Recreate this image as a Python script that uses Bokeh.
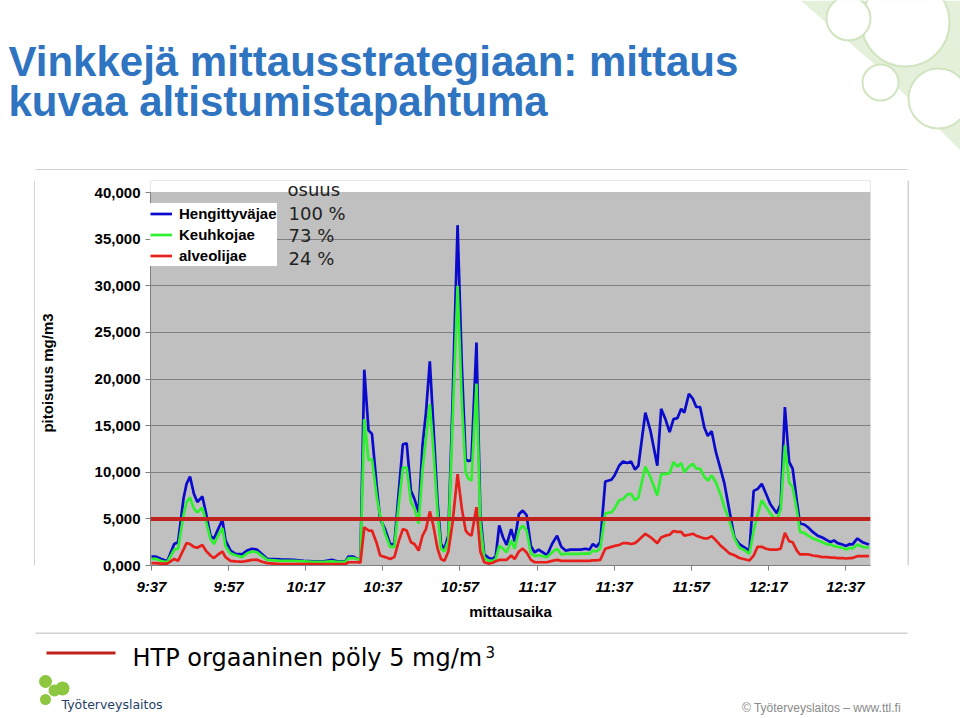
from bokeh.plotting import figure
from bokeh.layouts import column, row
from bokeh.models import (Range1d, FixedTicker, Span, Label, Legend, LegendItem,
                          BoxAnnotation)
from bokeh.core.properties import value
from bokeh.embed import file_html
from bokeh.resources import INLINE

# ---------------- data ----------------
# sample times as minutes after 9:37
minutes = [
    0.0, 1.1, 2.4, 4.1, 5.9, 6.9, 8.3, 9.1, 10.0, 11.0,
    11.9, 13.2, 14.1, 15.3, 16.2, 17.5, 18.4, 19.2, 20.5, 21.8,
    23.5, 24.8, 26.1, 27.4, 28.7, 30.0, 33.5, 36.9, 39.5, 42.1,
    44.7, 46.8, 48.1, 50.3, 51.1, 52.4, 53.3, 54.2,
    55.2, 56.3, 57.2, 58.5, 59.3, 60.6, 61.9, 63.0, 64.2, 65.2,
    66.2, 67.3, 68.2, 69.3, 70.3, 71.2, 72.2, 73.1, 74.2, 75.1,
    76.0, 77.0, 78.1, 79.4, 80.5, 81.5, 82.2, 83.0, 84.3,
    85.3, 86.3, 87.5, 88.5, 89.3, 90.2, 91.2, 92.1, 93.3, 94.2,
    95.3, 96.3, 97.3, 98.4, 99.4, 100.4, 101.5, 102.6, 103.9, 105.2,
    106.3, 107.4, 108.7, 110.0, 111.3, 112.6, 113.6, 114.5, 115.4, 116.4, 117.7,
    119.3, 120.1, 121.3, 122.3, 123.4, 124.4, 125.4, 126.3, 128.1, 129.4,
    131.2, 132.2, 133.3, 134.4, 135.4, 136.4, 137.4, 138.2, 139.4, 140.4,
    141.3, 142.3, 143.4, 144.3, 145.3, 146.4, 147.7, 148.6, 149.9, 151.2,
    152.5, 153.6, 155.1,
    156.2, 157.2, 158.3, 159.4, 160.5, 161.5, 162.2, 163.2, 164.3, 165.4,
    166.3, 167.4, 168.2, 169.3, 170.3, 171.5, 172.8, 174.0, 175.3, 176.2,
    177.0, 178.0, 179.2, 180.2, 181.1, 181.8, 183.1, 184.4, 186.1,
]

hengittyvajae = [
    0.96, 0.96, 0.72, 0.46, 2.3, 2.5, 7.15, 8.76, 9.54, 7.7,
    6.8, 7.4, 5.7, 3.2, 2.86, 4.1, 4.9, 2.7, 1.6, 1.25,
    1.2, 1.6, 1.8, 1.7, 1.2, 0.72, 0.65, 0.6, 0.5, 0.45,
    0.45, 0.6, 0.45, 0.45, 0.96, 0.96, 0.72, 0.7,
    21.0, 14.5, 14.1, 8.2, 5.0, 3.9, 2.3, 2.3, 8.2, 13.0,
    13.1, 8.0, 7.15, 5.7, 12.9, 16.4, 21.9, 15.2, 6.8, 2.3,
    1.8, 3.2, 17.5, 36.5, 21.4, 11.4, 11.2, 11.3, 23.9,
    5.5, 1.2, 0.8, 0.7, 1.0, 4.3, 3.0, 2.2, 3.9, 2.6,
    5.5, 5.9, 5.4, 2.1, 1.4, 1.7, 1.4, 1.1, 2.3, 3.2,
    2.0, 1.6, 1.7, 1.7, 1.7, 1.8, 1.7, 2.3, 2.0, 2.5, 9.0,
    9.2, 9.65, 10.7, 11.15, 11.0, 11.15, 10.3, 10.7, 16.4, 14.5,
    10.7, 16.8, 15.7, 14.3, 15.7, 15.8, 16.8, 16.4, 18.4, 17.9,
    17.0, 17.0, 14.8, 13.9, 14.4, 12.15, 10.2, 8.8, 5.9, 3.0,
    2.3, 2.0, 1.6,
    8.0, 8.2, 8.76, 7.7, 6.6, 6.0, 5.6, 6.6, 17.0, 11.1,
    10.4, 6.9, 4.5, 4.4, 4.1, 3.6, 3.2, 3.0, 2.7, 2.5,
    2.7, 2.4, 2.25, 2.1, 2.3, 2.25, 2.9, 2.5, 2.25,
]

keuhkojae = [
    0.72, 0.72, 0.5, 0.35, 1.7, 1.8, 5.4, 6.8, 7.3, 6.1,
    5.7, 6.2, 4.8, 2.86, 2.3, 3.4, 4.0, 2.1, 1.3, 1.1,
    0.9, 1.3, 1.5, 1.4, 1.0, 0.6, 0.5, 0.5, 0.45, 0.4,
    0.4, 0.45, 0.4, 0.4, 0.8, 0.8, 0.7, 0.6,
    15.7, 11.3, 11.4, 7.15, 5.4, 3.4, 2.0, 2.0, 6.8, 10.5,
    10.5, 6.8, 6.1, 4.5, 10.3, 13.6, 17.3, 12.5, 5.7, 1.8,
    1.5, 2.7, 15.4, 30.0, 17.5, 10.0, 9.3, 9.1, 19.5,
    4.5, 0.8, 0.5, 0.5, 0.7, 2.1, 1.8, 1.4, 2.7, 1.8,
    3.75, 4.3, 3.75, 1.3, 1.0, 1.1, 1.0, 0.9, 1.4, 1.8,
    1.2, 1.25, 1.25, 1.25, 1.25, 1.3, 1.25, 1.6, 1.5, 1.8, 5.6,
    5.7, 6.1, 7.0, 7.1, 7.6, 7.7, 7.0, 7.3, 10.6, 9.5,
    7.5, 9.8, 9.8, 9.9, 11.1, 10.6, 11.0, 10.0, 10.6, 10.9,
    10.4, 10.4, 9.5, 9.1, 9.65, 8.9, 7.5, 6.25, 4.8, 2.9,
    1.9, 1.7, 1.25,
    3.75, 5.4, 7.0, 6.3, 5.6, 5.1, 4.9, 6.0, 12.9, 8.9,
    8.4, 5.9, 3.6, 3.5, 3.2, 2.9, 2.7, 2.5, 2.25, 2.25,
    2.1, 2.0, 1.9, 1.7, 1.9, 1.8, 2.25, 2.0, 1.9,
]

alveolijae = [
    0.25, 0.25, 0.2, 0.2, 0.7, 0.5, 1.7, 2.4, 2.3, 2.0,
    1.9, 2.2, 1.6, 1.07, 0.8, 1.25, 1.5, 0.9, 0.5, 0.45,
    0.4, 0.5, 0.6, 0.62, 0.4, 0.25, 0.15, 0.15, 0.15, 0.15,
    0.15, 0.15, 0.15, 0.15, 0.35, 0.35, 0.35, 0.3,
    4.1, 3.75, 3.75, 2.3, 1.07, 0.9, 0.7, 0.9, 2.7, 3.9,
    3.75, 2.5, 2.3, 1.6, 3.2, 3.9, 5.8, 4.3, 1.8, 0.7,
    0.5, 1.5, 4.6, 9.8, 6.1, 3.75, 3.4, 3.2, 6.25,
    1.5, 0.35, 0.2, 0.3, 0.45, 0.6, 0.6, 0.6, 1.07, 0.7,
    1.5, 1.8, 1.4, 0.6, 0.35, 0.35, 0.35, 0.35, 0.5, 0.6,
    0.5, 0.5, 0.5, 0.5, 0.5, 0.5, 0.5, 0.55, 0.55, 0.6, 1.8,
    2.0, 2.1, 2.2, 2.4, 2.4, 2.3, 2.4, 2.7, 3.4, 3.05,
    2.4, 3.0, 3.2, 3.3, 3.7, 3.6, 3.6, 3.2, 3.3, 3.4,
    3.2, 3.05, 2.9, 2.9, 3.15, 2.7, 2.1, 1.8, 1.3, 1.1,
    0.8, 0.7, 0.54,
    1.07, 2.0, 2.0, 1.8, 1.7, 1.7, 1.7, 1.8, 3.5, 2.6,
    2.5, 1.6, 1.2, 1.2, 1.2, 1.07, 1.0, 0.9, 0.9, 0.85,
    0.85, 0.8, 0.8, 0.75, 0.8, 0.8, 1.0, 1.0, 1.0,
]

htp_limit = 5.0  # mg/m3

series_names = ["Hengittyväjae", "Keuhkojae", "alveolijae"]
series_colors = ["#0a0acd", "#2ef02e", "#e8201c"]
osuus = ["100 %", "73 %", "24 %"]

x_tick_minutes = [0, 20, 40, 60, 80, 100, 120, 140, 160, 180]
x_tick_labels = ["9:37", "9:57", "10:17", "10:37", "10:57",
                 "11:17", "11:37", "11:57", "12:17", "12:37"]
y_ticks = [0, 5, 10, 15, 20, 25, 30, 35, 40]
y_tick_labels = ["0,000", "5,000", "10,000", "15,000", "20,000",
                 "25,000", "30,000", "35,000", "40,000"]

title_lines = ["Vinkkejä mittausstrategiaan: mittaus", "kuvaa altistumistapahtuma"]
htp_text = "HTP orgaaninen pöly 5 mg/m"
footer_text = "© Työterveyslaitos  –  www.ttl.fi"
logo_text = "Työterveyslaitos"

assert len(minutes) == len(hengittyvajae) == len(keuhkojae) == len(alveolijae)

AX = "Liberation Sans"
OS = "DejaVu Sans"
TITLE_COL = "#2f74c0"
LIMIT_COL = "#c0211d"
BOX_COL = "#a6a6a6"

PAGE_W, PAGE_H = 960, 718
TOP_H = 170          # title band
BOX_X0, BOX_X1 = 35, 907
BOX_H = 462          # chart box 170..632
BOT_H = PAGE_H - TOP_H - BOX_H


def base(y, size):
    """text y that puts the alphabetic baseline at page row y"""
    return y - 0.38 * size


def blank(w, h, xr, yr):
    f = figure(width=w, height=h, output_backend="svg", toolbar_location=None,
               x_range=Range1d(*xr), y_range=Range1d(*yr),
               x_axis_type=None, y_axis_type=None, min_border=0,
               outline_line_color=None, background_fill_color="white",
               border_fill_color="white")
    return f


# ---------------- top band: title + decoration ----------------
top = blank(PAGE_W, TOP_H, (0, PAGE_W), (TOP_H, 0))
top.patch([800, 960, 960, 872], [0, 0, 150, 62], fill_color="#e4f0da",
          line_color=None)
top.circle(x=[905, 848, 938, 880], y=[22, 18, 98, 82], radius=[44, 22, 30, 18],
           fill_color="white", line_color="#cfe4bf", line_width=2)
top.text(x=[8, 8], y=[base(77, 42), base(117, 42)], text=title_lines,
         text_font=value(AX), text_font_size="42px", text_font_style="bold",
         text_color=TITLE_COL, text_baseline="alphabetic")
top.line([BOX_X0, BOX_X1], [TOP_H - 0.5, TOP_H - 0.5], line_color=BOX_COL,
         line_width=1)

# ---------------- chart ----------------
FL, FB = 148, 565     # page position of plot frame left / bottom
p = figure(width=BOX_X1 - BOX_X0, height=BOX_H, output_backend="svg",
           toolbar_location=None,
           x_range=Range1d(-0.25, 186.5), y_range=Range1d(0, 41.29),
           min_border_left=FL - BOX_X0, min_border_right=BOX_X1 - 870,
           min_border_top=180 - TOP_H, min_border_bottom=TOP_H + BOX_H - FB,
           background_fill_color="#c0c0c0", border_fill_color="white",
           outline_line_color=None)

p.add_layout(BoxAnnotation(bottom=40, fill_color="white", fill_alpha=1.0,
                           line_color=None, level="underlay"))

p.xgrid.visible = False
p.ygrid.grid_line_color = "#7f7f7f"
p.ygrid.grid_line_width = 1

p.yaxis.ticker = FixedTicker(ticks=y_ticks)
p.yaxis.major_label_overrides = {t: l for t, l in zip(y_ticks, y_tick_labels)}
p.yaxis.bounds = (0, 40)
p.xaxis.ticker = FixedTicker(ticks=x_tick_minutes)
p.xaxis.major_label_overrides = {t: l for t, l in zip(x_tick_minutes, x_tick_labels)}

for ax in (p.xaxis[0], p.yaxis[0]):
    ax.axis_line_color = "#808080"
    ax.major_tick_line_color = "#808080"
    ax.major_tick_out = 5
    ax.major_tick_in = 0
    ax.minor_tick_line_color = None
    ax.major_label_text_font = AX
    ax.major_label_text_font_size = "15px"
    ax.major_label_text_color = "black"
    ax.axis_label_text_font = AX
    ax.axis_label_text_font_size = "15px"
    ax.axis_label_text_font_style = "bold"
    ax.axis_label_text_color = "black"

p.yaxis.major_label_text_font_style = "bold"
p.xaxis.major_label_text_font_style = "bold italic"
p.yaxis.axis_label = "pitoisuus mg/m3"
p.yaxis.axis_label_standoff = 36
p.xaxis.axis_label = "mittausaika"
p.xaxis.major_label_standoff = 7
p.xaxis.axis_label_standoff = 5

renderers = []
for vals, col in zip([hengittyvajae, keuhkojae, alveolijae], series_colors):
    renderers.append(p.line(minutes, vals, line_color=col, line_width=2.7))

p.add_layout(Span(location=htp_limit, dimension="width",
                  line_color=LIMIT_COL, line_width=4))

legend = Legend(items=[LegendItem(label=n, renderers=[r])
                       for n, r in zip(series_names, renderers)],
                location=(0, FB - 266), padding=3, spacing=0, margin=0,
                glyph_width=22, glyph_height=21, label_height=21,
                label_standoff=7, background_fill_color="white",
                background_fill_alpha=1.0, border_line_color=None,
                label_text_font=AX, label_text_font_style="bold",
                label_text_font_size="15px", label_text_color="black")
p.add_layout(legend)


def lab(px, py, text, size, **kw):
    return Label(x=px - FL, y=FB - base(py, size), x_units="screen", y_units="screen",
                 text=text, text_font_size=f"{size}px", **kw)


p.add_layout(lab(285, 196, "osuus", 18, text_font=OS,
                 text_color="#222222", text_baseline="alphabetic"))
for txt, by in zip(osuus, [220, 242, 265]):
    p.add_layout(lab(286, by, txt, 18, text_font=OS,
                     text_color="#222222", text_baseline="alphabetic"))

# side strips carrying the chart box's left and right border
left_strip = blank(BOX_X0, BOX_H, (0, BOX_X0), (0, BOX_H))
left_strip.line([BOX_X0 - 0.5, BOX_X0 - 0.5], [0, BOX_H], line_color=BOX_COL,
                line_width=1)
right_strip = blank(PAGE_W - BOX_X1, BOX_H, (0, PAGE_W - BOX_X1), (0, BOX_H))
right_strip.line([0.5, 0.5], [0, BOX_H], line_color=BOX_COL, line_width=1)

chart_row = row(left_strip, p, right_strip)

# ---------------- bottom band ----------------
Y0 = TOP_H + BOX_H
bot = blank(PAGE_W, BOT_H, (0, PAGE_W), (PAGE_H, Y0))
bot.line([BOX_X0, BOX_X1], [Y0 + 0.5, Y0 + 0.5], line_color=BOX_COL, line_width=1)
bot.line([46, 115], [652.5, 652.5], line_color=LIMIT_COL, line_width=3)
bot.text(x=[132], y=[base(667, 24)], text=[htp_text], text_font=value(OS),
         text_font_size="24px", text_color="black", text_baseline="alphabetic")
bot.text(x=[485], y=[base(657, 15)], text=["3"], text_font=value(OS),
         text_font_size="15px", text_color="black", text_baseline="alphabetic")
bot.circle(x=[45, 62, 45, 54], y=[681, 688, 699, 690], radius=[6.5, 7, 5.5, 6],
           fill_color="#8dc63f", line_color=None)
bot.text(x=[61], y=[base(709, 12.5)], text=[logo_text], text_font=value(OS),
         text_font_size="12.5px", text_color="#1f4066", text_baseline="alphabetic")
bot.text(x=[907], y=[base(712, 12)], text=[footer_text], text_font=value(AX),
         text_font_size="12px", text_color="#8a8a8a", text_align="right",
         text_baseline="alphabetic")

layout = column(top, chart_row, bot)

open("out.html", "w").write(file_html(layout, INLINE))
